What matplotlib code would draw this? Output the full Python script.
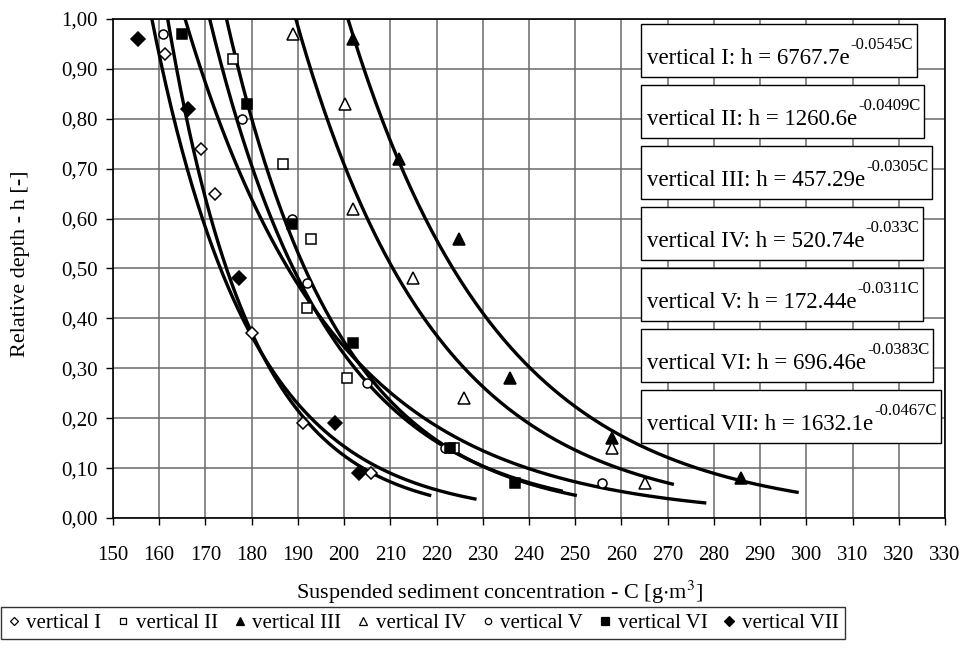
import numpy as np
import matplotlib
matplotlib.use('Agg')
import matplotlib.pyplot as plt
from matplotlib.lines import Line2D
from matplotlib.patches import Rectangle
from matplotlib.ticker import FuncFormatter, MultipleLocator

plt.rcParams['font.family'] = ['Liberation Serif', 'DejaVu Serif']
plt.rcParams['mathtext.fontset'] = 'stix'

# measured points, one pair of lists per vertical
c_1 = [161.3, 169.0, 172.1, 180.0, 191.0, 205.8]
h_1 = [0.93, 0.74, 0.65, 0.37, 0.19, 0.09]
c_2 = [175.9, 186.8, 192.8, 191.9, 200.7, 223.8]
h_2 = [0.92, 0.71, 0.56, 0.42, 0.28, 0.14]
c_3 = [202.0, 211.9, 224.9, 235.9, 257.9, 285.9]
h_3 = [0.96, 0.72, 0.56, 0.28, 0.16, 0.08]
c_4 = [189.0, 200.1, 202.0, 215.0, 226.0, 257.9, 265.0]
h_4 = [0.97, 0.83, 0.62, 0.48, 0.24, 0.14, 0.07]
c_5 = [160.9, 178.0, 188.8, 192.0, 204.9, 221.8, 255.7]
h_5 = [0.97, 0.80, 0.60, 0.47, 0.27, 0.14, 0.07]
c_6 = [164.9, 178.9, 188.8, 201.9, 222.9, 237.0]
h_6 = [0.97, 0.83, 0.59, 0.35, 0.14, 0.07]
c_7 = [155.4, 166.3, 177.3, 198.1, 203.3]
h_7 = [0.96, 0.82, 0.48, 0.19, 0.09]

names = ['vertical I', 'vertical II', 'vertical III', 'vertical IV',
         'vertical V', 'vertical VI', 'vertical VII']

# exponential trendlines h = a * exp(b * C), as printed on the chart
coef_a = [6767.7, 1260.6, 457.29, 520.74, 172.44, 696.46, 1632.1]
coef_b = [-0.0545, -0.0409, -0.0305, -0.033, -0.0311, -0.0383, -0.0467]
trend_start = [158, 170, 196, 185, 160, 166, 155]
trend_end = [218.5, 250, 298, 271, 278, 247, 228.3]

eq_main = ['vertical I: h = 6767.7e', 'vertical II: h = 1260.6e',
           'vertical III: h = 457.29e', 'vertical IV: h = 520.74e',
           'vertical V: h = 172.44e', 'vertical VI: h = 696.46e',
           'vertical VII: h = 1632.1e']
eq_exp = ['-0.0545C', '-0.0409C', '-0.0305C', '-0.033C', '-0.0311C', '-0.0383C', '-0.0467C']

c_all = [c_1, c_2, c_3, c_4, c_5, c_6, c_7]
h_all = [h_1, h_2, h_3, h_4, h_5, h_6, h_7]
markers = ['D', 's', '^', '^', 'o', 's', 'D']
msizes = [6, 7, 8.5, 8.5, 6.5, 7.5, 7.5]
filled = [False, False, True, False, False, True, True]

W, H = 964, 650
fig = plt.figure(figsize=(W / 100, H / 100), dpi=100)
ax = fig.add_axes([113 / W, 1 - 518 / H, 832 / W, 499 / H])

for i in range(7):
    cc = np.linspace(trend_start[i], trend_end[i], 200)
    ax.plot(cc, coef_a[i] * np.exp(coef_b[i] * cc), color='black', lw=2.4, zorder=2)

for i in range(7):
    ax.plot(c_all[i], h_all[i], linestyle='none', marker=markers[i], ms=msizes[i],
            mfc='black' if filled[i] else 'white', mec='black', mew=1.1, zorder=3)

ax.set_xlim(150, 330)
ax.set_ylim(0, 1)
ax.xaxis.set_major_locator(MultipleLocator(10))
ax.yaxis.set_major_locator(MultipleLocator(0.1))
ax.yaxis.set_major_formatter(FuncFormatter(lambda v, p: f'{v:.2f}'.replace('.', ',')))
ax.grid(True, color='#6a6a6a', lw=1.1, zorder=0)
ax.set_axisbelow(True)
ax.tick_params(direction='out', length=5, width=1, labelsize=15, colors='black')
ax.tick_params(axis='x', pad=15)
ax.tick_params(axis='y', pad=6)
for s in ax.spines.values():
    s.set_linewidth(1.2)

ax.set_xlabel(r'Suspended sediment concentration - C [g$\cdot$m$^{3}$]', fontsize=16)
ax.xaxis.set_label_coords(0.465, -0.122)
ax.set_ylabel('Relative depth - h [-]', fontsize=16)
ax.yaxis.set_label_coords(-0.1, 0.51)

# equation boxes: main text plus a smaller raised exponent, framed afterwards
fig.canvas.draw()
renderer = fig.canvas.get_renderer()
inv = fig.transFigure.inverted()
for i in range(7):
    top = 24 + 61.0 * i
    x0, base = 647, top + 40
    t1 = fig.text(x0 / W, 1 - base / H, eq_main[i], fontsize=16.5, va='baseline', zorder=6)
    bb1 = t1.get_window_extent(renderer)
    t2 = fig.text(bb1.x1 / W + 0.001, 1 - (base - 15) / H, eq_exp[i], fontsize=12,
                  va='baseline', zorder=6)
    bb2 = t2.get_window_extent(renderer)
    right = bb2.x1 + 4
    (fx0, fy0), (fx1, fy1) = inv.transform([(641, H - top - 53), (right, H - top)])
    fig.patches.append(Rectangle((fx0, fy0), fx1 - fx0, fy1 - fy0, transform=fig.transFigure,
                                 fc='white', ec='black', lw=1.0, zorder=5))

handles = [Line2D([], [], linestyle='none', marker=markers[i], ms=msizes[i] * 0.7,
                  mfc='black' if filled[i] else 'white', mec='black', mew=0.9)
           for i in range(7)]
leg = fig.legend(handles, names, loc='center', bbox_to_anchor=(423 / W, 1 - 623 / H), ncol=7,
                 fontsize=15, frameon=True, fancybox=False, edgecolor='black',
                 handlelength=0.6, handletextpad=0.3, columnspacing=0.75, borderpad=0.3,
                 borderaxespad=0)
leg.get_frame().set_linewidth(1.0)

fig.savefig('out.png', dpi=100)
